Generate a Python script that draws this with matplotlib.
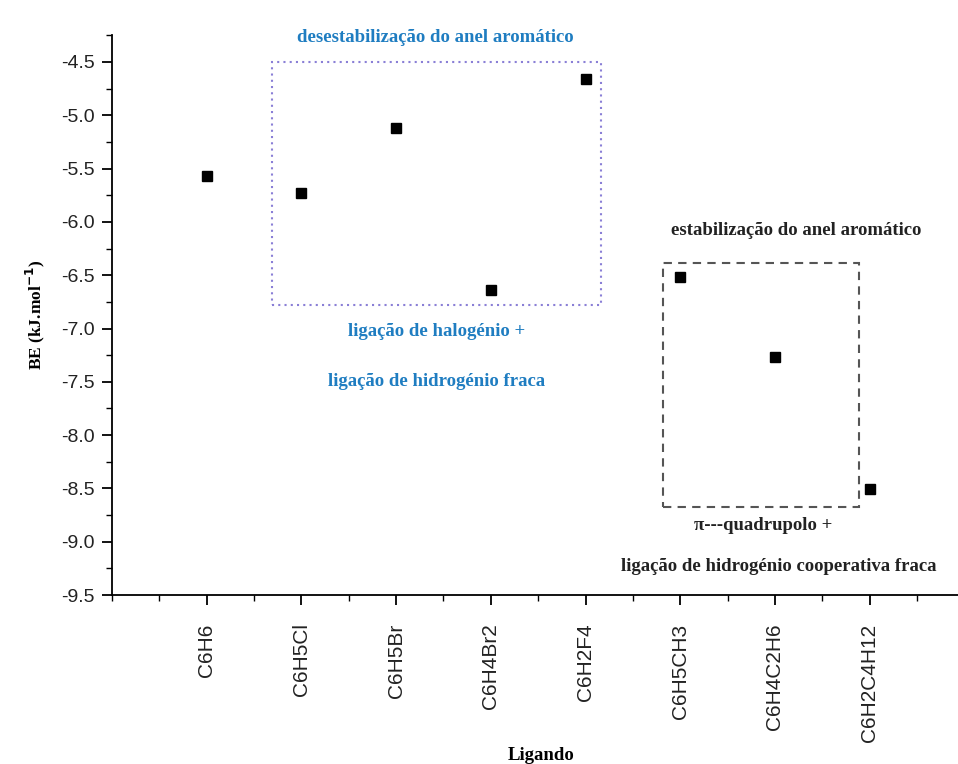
import matplotlib.pyplot as plt
from matplotlib.patches import Rectangle
from matplotlib.ticker import MultipleLocator

ligandos = ["C6H6", "C6H5Cl", "C6H5Br", "C6H4Br2", "C6H2F4",
            "C6H5CH3", "C6H4C2H6", "C6H2C4H12"]
be = [-5.57, -5.73, -5.12, -6.64, -4.66, -6.52, -7.27, -8.51]
yticks = [-9.5, -9.0, -8.5, -8.0, -7.5, -7.0, -6.5, -6.0, -5.5, -5.0, -4.5]

blue = "#1f7dc1"
dark = "#222222"
serif = "Liberation Serif"
sans = "Liberation Sans"

fig = plt.figure(figsize=(9.58, 7.64), dpi=100)
ax = fig.add_axes([112 / 958, 1 - 595 / 764, (958 - 112) / 958, (595 - 35) / 764])

x = list(range(1, len(ligandos) + 1))
ax.plot(x, be, "s", color="black", markersize=7, linestyle="none")

ax.set_xlim(0, 846 / 94.7)
ax.set_ylim(-9.5, -4.5 + 27 / 106.6)

ax.set_xticks(x)
ax.set_xticklabels(ligandos, rotation=90, family=sans, fontsize=15, color=dark)
ax.xaxis.set_minor_locator(MultipleLocator(0.5))
ax.set_yticks(yticks)
ax.set_yticklabels(["%.1f" % v for v in yticks], family=sans, fontsize=14, color=dark)
ax.yaxis.set_minor_locator(MultipleLocator(0.25))

ax.spines["top"].set_visible(False)
ax.spines["right"].set_visible(False)
ax.spines["left"].set_linewidth(1.3)
ax.spines["bottom"].set_linewidth(1.3)
ax.tick_params(which="major", direction="out", length=7.5, width=1.3, pad=5)
ax.tick_params(which="minor", direction="out", length=4, width=1.0)
ax.tick_params(axis="x", which="major", pad=13)

ax.set_ylabel("BE (kJ.mol$^{\\mathbf{-1}}$)", family=serif, fontweight="bold",
              fontsize=12.5, labelpad=10)
fig.text(541 / 958, 1 - 756 / 764, "Ligando", family=serif, fontweight="bold",
         fontsize=13.5, ha="center", va="center")

# boxes
ax.add_patch(Rectangle((1.69, -6.78), 5.16 - 1.69, -4.5 - -6.78, fill=False,
                       edgecolor="#8a7fd6", linestyle=(0, (1, 2)), linewidth=1.5,
                       clip_on=False))
ax.add_patch(Rectangle((5.82, -8.67), 7.89 - 5.82, -6.39 - -8.67, fill=False,
                       edgecolor="#555555", linestyle=(0, (4, 3)), linewidth=1.5,
                       clip_on=False))

fs = 13.5
ax.text(3.41, -4.27, "desestabilização do anel aromático", color=blue,
        family=serif, fontweight="bold", fontsize=fs, ha="center", va="center",
        clip_on=False)
ax.text(3.43, -7.03, "ligação de halogénio +", color=blue, family=serif,
        fontweight="bold", fontsize=fs, ha="center", va="center")
ax.text(3.43, -7.50, "ligação de hidrogénio fraca", color=blue, family=serif,
        fontweight="bold", fontsize=fs, ha="center", va="center")
ax.text(7.22, -6.08, "estabilização do anel aromático", color=dark,
        family=serif, fontweight="bold", fontsize=fs, ha="center", va="center")
ax.text(6.88, -8.85, "π---quadrupolo +", color=dark, family=serif,
        fontweight="bold", fontsize=fs, ha="center", va="center")
ax.text(7.04, -9.23, "ligação de hidrogénio cooperativa fraca", color=dark,
        family=serif, fontweight="bold", fontsize=fs, ha="center", va="center")

fig.savefig("out.png", dpi=100)
